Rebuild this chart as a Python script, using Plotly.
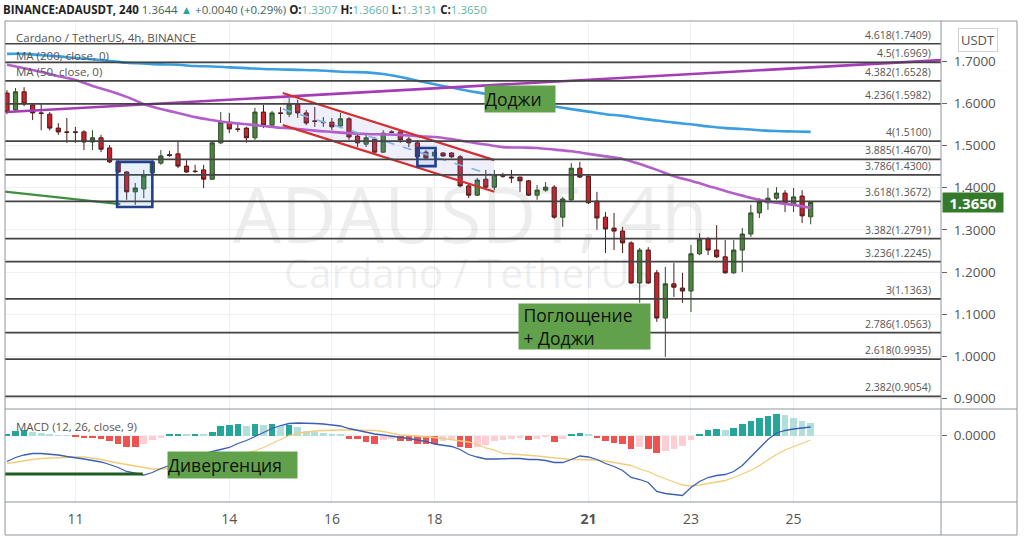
import pandas as pd
import plotly.graph_objects as go

# ---------------- data ----------------
candle_time = pd.date_range("2021-06-09 16:00", periods=95, freq="4h")

open_ = [1.624,1.584,1.627,1.596,1.577,1.574,1.541,1.532,1.532,1.532,
         1.508,1.518,1.494,1.461,1.437,1.390,1.397,1.435,1.458,1.478,
         1.480,1.451,1.439,1.442,1.420,1.506,1.555,1.539,1.541,1.518,
         1.579,1.548,1.577,1.574,1.598,1.577,1.558,1.555,1.555,1.546,
         1.563,1.522,1.503,1.515,1.484,1.532,1.532,1.515,1.506,1.484,
         1.475,1.482,1.482,1.473,1.404,1.382,1.420,1.401,1.430,1.425,
         1.425,1.416,1.382,1.394,1.401,1.330,1.371,1.446,1.427,1.368,
         1.330,1.304,1.297,1.269,1.174,1.252,1.198,1.091,1.172,1.162,
         1.155,1.243,1.278,1.252,1.236,1.198,1.252,1.290,1.340,1.364,
         1.375,1.387,1.361,1.380,1.3307]
high = [1.631,1.636,1.638,1.600,1.600,1.579,1.553,1.565,1.544,1.536,
        1.536,1.525,1.501,1.465,1.439,1.411,1.442,1.465,1.489,1.487,
        1.508,1.465,1.454,1.454,1.508,1.579,1.577,1.553,1.544,1.589,
        1.596,1.582,1.591,1.612,1.608,1.584,1.591,1.567,1.565,1.577,
        1.567,1.529,1.525,1.520,1.536,1.536,1.536,1.520,1.513,1.489,
        1.489,1.484,1.484,1.477,1.409,1.423,1.442,1.442,1.435,1.442,
        1.425,1.418,1.406,1.413,1.406,1.378,1.458,1.461,1.430,1.390,
        1.342,1.340,1.307,1.273,1.257,1.259,1.205,1.212,1.221,1.198,
        1.264,1.292,1.283,1.311,1.276,1.276,1.304,1.359,1.375,1.399,
        1.401,1.394,1.399,1.394,1.3660]
low = [1.574,1.579,1.593,1.560,1.536,1.536,1.525,1.506,1.506,1.489,
       1.489,1.484,1.458,1.435,1.371,1.359,1.375,1.432,1.454,1.473,
       1.446,1.435,1.435,1.399,1.418,1.503,1.529,1.532,1.506,1.513,
       1.541,1.546,1.553,1.567,1.565,1.548,1.544,1.544,1.536,1.541,
       1.513,1.496,1.496,1.482,1.482,1.529,1.506,1.496,1.470,1.465,
       1.465,1.473,1.470,1.401,1.375,1.380,1.394,1.394,1.423,1.411,
       1.390,1.380,1.371,1.390,1.326,1.307,1.368,1.423,1.361,1.300,
       1.245,1.252,1.245,1.172,1.127,1.172,1.082,0.999,1.141,1.127,
       1.105,1.240,1.240,1.233,1.196,1.196,1.200,1.283,1.328,1.347,
       1.371,1.342,1.342,1.316,1.3131]
close = [1.579,1.627,1.598,1.577,1.576,1.541,1.532,1.531,1.531,1.508,
         1.518,1.491,1.461,1.437,1.390,1.399,1.430,1.461,1.475,1.476,
         1.451,1.437,1.438,1.420,1.506,1.555,1.539,1.538,1.518,1.579,
         1.548,1.577,1.576,1.598,1.577,1.553,1.557,1.554,1.544,1.563,
         1.520,1.506,1.518,1.484,1.529,1.531,1.513,1.506,1.473,1.470,
         1.484,1.475,1.473,1.404,1.382,1.418,1.401,1.430,1.427,1.423,
         1.416,1.382,1.394,1.401,1.330,1.373,1.446,1.425,1.364,1.328,
         1.302,1.297,1.269,1.174,1.252,1.174,1.091,1.172,1.164,1.155,
         1.243,1.278,1.252,1.236,1.198,1.252,1.290,1.340,1.366,1.375,
         1.387,1.361,1.378,1.333,1.3650]

# moving averages, read at every second candle
ma_time = candle_time[::2]
ma200 = [1.717,1.717,1.714,1.711,1.707,1.704,1.700,1.696,1.694,1.692,
         1.691,1.688,1.687,1.685,1.683,1.681,1.680,1.679,1.678,1.676,
         1.674,1.673,1.669,1.662,1.653,1.645,1.637,1.629,1.622,1.612,
         1.605,1.598,1.592,1.586,1.580,1.574,1.570,1.564,1.559,1.554,
         1.550,1.545,1.541,1.539,1.536,1.534,1.533,1.532]
ma50 = [1.691,1.683,1.674,1.664,1.655,1.641,1.629,1.615,1.598,1.586,
        1.577,1.567,1.560,1.554,1.550,1.546,1.542,1.539,1.535,1.532,
        1.529,1.527,1.526,1.525,1.522,1.520,1.515,1.508,1.502,1.496,
        1.495,1.494,1.490,1.486,1.480,1.474,1.468,1.456,1.442,1.427,
        1.416,1.404,1.392,1.381,1.371,1.364,1.359,1.352]

macd = [-0.026,-0.022,-0.0195,-0.018,-0.018,-0.0185,-0.0195,-0.021,-0.022,-0.0235,
        -0.025,-0.0265,-0.029,-0.032,-0.036,-0.038,-0.0395,-0.037,-0.033,-0.030,
        -0.026,-0.023,-0.0205,-0.018,-0.016,-0.014,-0.012,-0.008,-0.005,-0.001,
        0.003,0.007,0.010,0.012,0.0125,0.0125,0.012,0.0115,0.0105,0.0095,
        0.007,0.005,0.003,0.0015,0.0005,-0.0005,-0.002,-0.003,-0.0045,-0.006,
        -0.0085,-0.0095,-0.011,-0.014,-0.019,-0.0215,-0.0235,-0.0235,-0.023,-0.023,
        -0.023,-0.024,-0.024,-0.025,-0.027,-0.027,-0.024,-0.0205,-0.0215,-0.024,
        -0.028,-0.031,-0.035,-0.042,-0.044,-0.047,-0.056,-0.058,-0.059,-0.060,
        -0.052,-0.046,-0.042,-0.040,-0.039,-0.036,-0.030,-0.021,-0.013,-0.004,
        0.0025,0.005,0.0065,0.0075,0.0085]
signal = [-0.028,-0.0265,-0.025,-0.024,-0.023,-0.0225,-0.022,-0.0215,-0.0215,-0.0215,
          -0.0225,-0.024,-0.026,-0.0275,-0.0295,-0.031,-0.0325,-0.0335,-0.0335,-0.033,
          -0.032,-0.0305,-0.029,-0.027,-0.025,-0.023,-0.021,-0.0195,-0.0175,-0.0155,
          -0.012,-0.008,-0.004,0.0,0.002,0.0035,0.0045,0.005,0.0055,0.0055,
          0.0055,0.0055,0.0055,0.005,0.004,0.0025,0.0005,0.0,-0.0005,-0.0015,
          -0.002,-0.003,-0.004,-0.005,-0.0065,-0.009,-0.0125,-0.0145,-0.018,-0.0185,
          -0.019,-0.020,-0.0205,-0.0215,-0.0225,-0.0235,-0.024,-0.024,-0.024,-0.0245,
          -0.0255,-0.027,-0.028,-0.030,-0.0335,-0.036,-0.040,-0.0435,-0.0465,-0.0495,
          -0.0505,-0.0495,-0.048,-0.0465,-0.045,-0.042,-0.0385,-0.035,-0.030,-0.0245,
          -0.019,-0.0145,-0.011,-0.008,-0.0045]
hist = [0.002,0.005,0.006,0.004,0.003,0.001,0.0005,0.0002,-0.0015,-0.002,
        -0.002,-0.003,-0.005,-0.008,-0.011,-0.0115,-0.008,-0.004,-0.002,0.002,
        0.002,0.001,0.002,0.001,0.004,0.010,0.011,0.0115,0.010,0.012,
        0.011,0.012,0.010,0.011,0.009,0.005,0.004,0.003,0.002,0.001,
        -0.003,-0.003,-0.006,-0.008,-0.004,-0.003,-0.005,-0.0055,-0.008,-0.0082,
        -0.0084,-0.005,-0.0045,-0.011,-0.012,-0.0115,-0.009,-0.005,-0.004,-0.0035,
        -0.002,-0.004,-0.003,-0.001,-0.006,-0.003,0.001,0.003,0.001,-0.002,
        -0.005,-0.007,-0.008,-0.013,-0.011,-0.013,-0.017,-0.015,-0.013,-0.010,
        -0.004,0.002,0.006,0.007,0.006,0.008,0.012,0.015,0.018,0.020,
        0.0215,0.021,0.018,0.015,0.013]

fib_ratio = ["4.618", "4.5", "4.382", "4.236", "4", "3.885", "3.786", "3.618",
             "3.382", "3.236", "3", "2.786", "2.618", "2.382"]
fib_price = [1.7409, 1.6969, 1.6528, 1.5982, 1.5100, 1.4670, 1.4300, 1.3672,
             1.2791, 1.2245, 1.1363, 1.0563, 0.9935, 0.9054]

# drawings (time, value)
trend_time = ["2021-06-09 16:00", "2021-06-27 21:00"]
trend_price = [1.579, 1.702]
support_time = ["2021-06-09 14:00", "2021-06-11 21:00"]
support_price = [1.391, 1.361]
channel_time = ["2021-06-15 01:00", "2021-06-19 04:00"]
channel_upper = [1.624, 1.465]
channel_lower = [1.548, 1.390]
channel_mid = [1.586, 1.428]
box1_time = ["2021-06-11 19:30", "2021-06-12 12:00"]
box1_price = [1.354, 1.461]
box2_time = ["2021-06-17 16:00", "2021-06-18 00:30"]
box2_price = [1.451, 1.494]
div_time = ["2021-06-09 14:00", "2021-06-12 07:30"]
div_value = [-0.0385, -0.0385]

tick_dates = ["2021-06-11", "2021-06-14", "2021-06-16", "2021-06-18",
              "2021-06-21", "2021-06-23", "2021-06-25"]
tick_text = ["11", "14", "16", "18", "<b>21</b>", "23", "25"]
price_ticks = [0.9, 1.0, 1.1, 1.2, 1.3, 1.4, 1.5, 1.6, 1.7]

# ---------------- layout geometry ----------------
W, H = 1024, 538
L, R, T, B = 5, 941, 21, 502
SPLIT = 409


def px(x):
    return (x - L) / (R - L)


def py(y):
    return (B - y) / (B - T)


FONT = "Open Sans"
TEAL, TEAL_L, RED, PINK = "#26a69a", "#b2dfdb", "#ef5350", "#ffcdd2"

fig = go.Figure()

# channel fill
fig.add_trace(go.Scatter(
    x=[channel_time[0], channel_time[1], channel_time[1], channel_time[0]],
    y=[channel_upper[0], channel_upper[1], channel_lower[1], channel_lower[0]],
    fill="toself", fillcolor="rgba(120,130,225,0.13)", mode="lines",
    line=dict(width=0), hoverinfo="skip"))

fig.add_trace(go.Candlestick(
    x=candle_time, open=open_, high=high, low=low, close=close,
    increasing=dict(line=dict(color="#2f4a2b", width=1), fillcolor="#4e8540"),
    decreasing=dict(line=dict(color="#4d1a1a", width=1), fillcolor="#c9242c"),
    whiskerwidth=0))

fig.add_trace(go.Scatter(x=ma_time, y=ma200, mode="lines",
                         line=dict(color="#3a9ee0", width=2.6, shape="spline")))
fig.add_trace(go.Scatter(x=ma_time, y=ma50, mode="lines",
                         line=dict(color="#b35fc9", width=2.6, shape="spline")))
fig.add_trace(go.Scatter(x=trend_time, y=trend_price, mode="lines",
                         line=dict(color="#a43cb8", width=2.6)))
fig.add_trace(go.Scatter(x=support_time, y=support_price, mode="lines",
                         line=dict(color="#3f8e3c", width=2.2)))
fig.add_trace(go.Scatter(x=channel_time, y=channel_upper, mode="lines",
                         line=dict(color="#d32f2f", width=2.2)))
fig.add_trace(go.Scatter(x=channel_time, y=channel_lower, mode="lines",
                         line=dict(color="#d32f2f", width=2.2)))
fig.add_trace(go.Scatter(x=channel_time, y=channel_mid, mode="lines",
                         line=dict(color="#7fb3e8", width=1.6, dash="dash")))

# MACD pane
hist_colors = []
for i, h in enumerate(hist):
    prev = hist[i - 1] if i > 0 else h
    if h >= 0:
        hist_colors.append(TEAL if h >= prev else TEAL_L)
    else:
        hist_colors.append(RED if h <= prev else PINK)
fig.add_trace(go.Bar(x=candle_time, y=hist, marker=dict(color=hist_colors, line=dict(width=0)),
                     width=4 * 3600 * 1000 * 0.78, xaxis="x2", yaxis="y2"))
fig.add_trace(go.Scatter(x=candle_time, y=signal, mode="lines", xaxis="x2", yaxis="y2",
                         line=dict(color="#f2cc7a", width=1.3)))
fig.add_trace(go.Scatter(x=candle_time, y=macd, mode="lines", xaxis="x2", yaxis="y2",
                         line=dict(color="#3b5fb5", width=1.3)))
fig.add_trace(go.Scatter(x=div_time, y=div_value, mode="lines", xaxis="x2", yaxis="y2",
                         line=dict(color="#1f5c22", width=3)))

x_range = ["2021-06-09 15:04", "2021-06-27 20:58"]
price_range = [1.7 - (SPLIT - 61) / 422, 1.7 + (61 - T) / 422]
macd_range = [-(B - 435.5) * 0.001, (435.5 - SPLIT) * 0.001]
split_paper = py(SPLIT)

axis_font = dict(family=FONT, size=13.5, color="#555")
fig.update_layout(
    width=W, height=H, showlegend=False,
    paper_bgcolor="white", plot_bgcolor="white",
    margin=dict(l=L, r=W - R, t=T, b=H - B),
    bargap=0,
    xaxis=dict(domain=[0, 1], anchor="y", range=x_range, rangeslider=dict(visible=False),
               tickvals=tick_dates, ticktext=tick_text, showticklabels=False,
               showgrid=True, gridcolor="#eef0f3", zeroline=False, showline=False),
    xaxis2=dict(domain=[0, 1], anchor="y2", range=x_range, matches="x",
                tickvals=tick_dates, ticktext=tick_text, tickfont=dict(family=FONT, size=14, color="#555"),
                ticks="", ticklabelstandoff=7,
                showgrid=True, gridcolor="#eef0f3", zeroline=False, showline=False),
    yaxis=dict(domain=[split_paper, 1], anchor="x", range=price_range, side="right",
               tickvals=price_ticks, tickformat=".4f", ticks="outside", ticklen=5,
               tickcolor="#666", tickfont=axis_font, ticklabelstandoff=4,
               showgrid=True, gridcolor="#eef0f4", zeroline=False, showline=False),
    yaxis2=dict(domain=[0, split_paper], anchor="x2", range=macd_range, side="right",
                tickvals=[0], ticktext=["0.0000"], ticks="outside", ticklen=5,
                tickcolor="#666", tickfont=axis_font, ticklabelstandoff=4,
                showgrid=True, gridcolor="#eceef2", zeroline=False, showline=False),
)

shapes = []
# fib levels
for p in fib_price:
    shapes.append(dict(type="line", xref="paper", yref="y", x0=0, x1=1, y0=p, y1=p,
                       line=dict(color="#434343", width=1.7), layer="above"))
# boxes
for bt, bp in [(box1_time, box1_price), (box2_time, box2_price)]:
    shapes.append(dict(type="rect", xref="x", yref="y", x0=bt[0], x1=bt[1], y0=bp[0], y1=bp[1],
                       line=dict(color="#22418c", width=2.6), fillcolor="rgba(60,140,230,0.12)",
                       layer="above"))
# frame
frame = "#8f959c"
right_edge = px(1017)
bottom_edge = py(535)
shapes += [
    dict(type="rect", xref="paper", yref="paper", x0=0, x1=right_edge, y0=bottom_edge, y1=1,
         line=dict(color=frame, width=1)),
    dict(type="line", xref="paper", yref="paper", x0=1, x1=1, y0=bottom_edge, y1=1,
         line=dict(color=frame, width=1)),
    dict(type="line", xref="paper", yref="paper", x0=0, x1=right_edge, y0=split_paper, y1=split_paper,
         line=dict(color=frame, width=1)),
    dict(type="line", xref="paper", yref="paper", x0=0, x1=right_edge, y0=0, y1=0,
         line=dict(color=frame, width=1)),
]
fig.update_layout(shapes=shapes)

ann = []
# watermark
ann.append(dict(text="ADAUSDT, 4h", xref="paper", yref="paper", x=px(470), y=py(160),
                showarrow=False, font=dict(family=FONT, size=76, color="rgba(90,90,90,0.11)")))
ann.append(dict(text="Cardano / TetherUS", xref="paper", yref="paper", x=px(468), y=py(272),
                showarrow=False, font=dict(family=FONT, size=40, color="rgba(90,90,90,0.11)")))
# fib labels
for r, p in zip(fib_ratio, fib_price):
    ann.append(dict(text=f"{r}({p:.4f})", xref="paper", yref="y", x=px(933), y=p,
                    xanchor="right", yanchor="bottom", yshift=0, showarrow=False,
                    font=dict(family=FONT, size=10.5, color="#555")))
# header
tv = "#5fb3a8"
header = ("<b>BINANCE:ADAUSDT, 240</b> <span style='color:#41645e'>1.3644</span> "
          "<span style='color:#26a69a'>▲</span> <span style='color:#41645e'>+0.0040 (+0.29%)</span> "
          f"<b>O:</b><span style='color:{tv}'>1.3307</span> <b>H:</b><span style='color:{tv}'>1.3660</span> "
          f"<b>L:</b><span style='color:{tv}'>1.3131</span> <b>C:</b><span style='color:{tv}'>1.3650</span>")
ann.append(dict(text=header, xref="paper", yref="paper", x=px(1), y=py(9), xanchor="left",
                yanchor="middle", showarrow=False, font=dict(family=FONT, size=11.5, color="#222")))
# pane legends
for txt, yy in [("Cardano / TetherUS, 4h, BINANCE", 37), ("MA (200, close, 0)", 55),
                ("MA (50, close, 0)", 72), ("MACD (12, 26, close, 9)", 426)]:
    ann.append(dict(text=txt, xref="paper", yref="paper", x=px(14), y=py(yy), xanchor="left",
                    yanchor="middle", showarrow=False, font=dict(family=FONT, size=11.5, color="#555")))
# green note labels
note_bg = "#62a14c"
for txt, cx, cy, w, h in [("Доджи", 520, 99, 70, 26),
                          ("&nbsp;Поглощение<br>&nbsp;+ Доджи", 584, 326.5, 131, 45),
                          ("Дивергенция", 232.5, 465, 129, 26)]:
    ann.append(dict(text=txt, xref="paper", yref="paper", x=px(cx), y=py(cy), xanchor="center",
                    yanchor="middle", showarrow=False, bgcolor=note_bg, width=w, height=h,
                    borderpad=0, align="left", valign="middle",
                    font=dict(family=FONT, size=17.5, color="#111")))
# price label and currency box
ann.append(dict(text="<b>1.3650</b>", xref="paper", yref="y", x=px(942), y=close[-1],
                xanchor="left", yanchor="middle", showarrow=False, bgcolor="#347a2a",
                width=60, height=19, borderpad=0, font=dict(family=FONT, size=15, color="white")))
ann.append(dict(text="USDT", xref="paper", yref="paper", x=px(978), y=py(40), xanchor="center",
                yanchor="middle", showarrow=False, bgcolor="white", bordercolor="#cfd3d8",
                borderwidth=1, borderpad=2, font=dict(family=FONT, size=13, color="#555")))
fig.update_layout(annotations=ann)

fig.write_html("out.html", config={"displayModeBar": False},
               post_script="document.body.style.margin='0';")
